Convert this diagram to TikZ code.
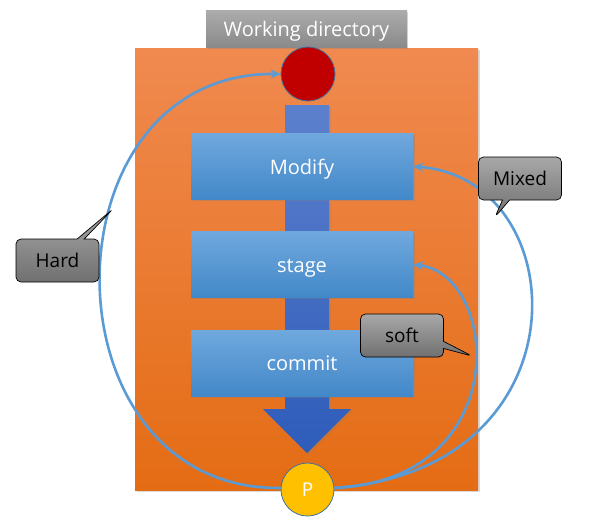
\documentclass[tikz,border=0pt]{standalone}
\usepackage{fontspec}
\setmainfont{Open Sans}
\usetikzlibrary{shapes.callouts,shadows,arrows.meta}
\definecolor{orTop}{RGB}{240,138,80}
\definecolor{orBot}{RGB}{228,108,20}
\definecolor{grTop}{RGB}{172,172,172}
\definecolor{grBot}{RGB}{138,138,138}
\definecolor{cgTop}{RGB}{168,168,168}
\definecolor{cgBot}{RGB}{112,112,112}
\definecolor{bxTop}{RGB}{112,168,222}
\definecolor{bxBot}{RGB}{66,136,200}
\definecolor{arTop}{RGB}{92,128,204}
\definecolor{arBot}{RGB}{46,92,186}
\definecolor{lnBlue}{RGB}{91,155,213}
\definecolor{rimBlue}{RGB}{65,113,156}
\definecolor{dkRed}{RGB}{192,0,0}
\definecolor{gold}{RGB}{255,192,0}
\tikzset{
  stepbox/.style={inner sep=0pt, minimum width=222pt, minimum height=66pt,
    top color=bxTop, bottom color=bxBot, text=white,
    font=\fontsize{20}{22}\selectfont, text height=15pt, text depth=0pt,
    drop shadow={opacity=0.35, shadow xshift=1.5pt, shadow yshift=-1.5pt}},
  bubble/.style={rectangle callout, rounded corners=5pt, draw=black, line width=0.7pt,
    top color=cgTop, bottom color=cgBot, inner sep=0pt,
    minimum width=83pt, minimum height=43pt, text=black,
    font=\fontsize{19}{21}\selectfont, text height=14pt, text depth=0pt},
  reset/.style={draw=lnBlue, line width=2.6pt, -{Stealth[length=10pt,width=9pt]}},
}
\begin{document}
\begin{tikzpicture}[x=1pt,y=-1pt]
\useasboundingbox (0,0) rectangle (590,531);
% orange working area
\node[inner sep=0pt, minimum width=343pt, minimum height=442pt,
  top color=orTop, bottom color=orBot,
  drop shadow={opacity=0.3, shadow xshift=1.5pt, shadow yshift=-1.5pt}] (area) at (306.5,269) {};
% title
\node[inner sep=0pt, minimum width=201pt, minimum height=37pt,
  top color=grTop, bottom color=grBot, text=white,
  font=\fontsize{20}{22}\selectfont, text height=15pt, text depth=0pt,
  drop shadow={opacity=0.3, shadow xshift=1pt, shadow yshift=-1.5pt}] (title) at (306.5,28.5) {Working directory};
% big flow arrow
\path[top color=arTop, bottom color=arBot, drop shadow={opacity=0.3, shadow xshift=1.5pt, shadow yshift=-1.5pt}]
  (285,105) -- (329,105) -- (329,409) -- (351,409) -- (307,453) -- (263,409) -- (285,409) -- cycle;
% steps
\node[stepbox] (modify) at (302,166.5) {Modify};
\node[stepbox] (stage)  at (302,264.5) {stage};
\node[stepbox] (commit) at (302,363)   {commit};
% circles
\node[circle, fill=dkRed, draw=rimBlue, line width=0.8pt, minimum size=54pt, inner sep=0pt] (head) at (308,74) {};
\node[circle, fill=gold, draw=rimBlue, line width=0.8pt, minimum size=53pt, inner sep=0pt,
  text=white, font=\fontsize{19}{21}\selectfont, text height=14pt, text depth=0pt] (p) at (307.5,489.5) {P};
% reset arrows
\coordinate (pw) at (282,488);
\coordinate (pe) at (334,488);
\draw[reset] (pw) .. controls (40,492) and (40,72) .. (head.west);
\draw[reset] (pe) .. controls (590,470) and (575,178) .. (modify.east);
\draw[reset] (pe) .. controls (515,480) and (500,275) .. (stage.east);
% callouts
\node[bubble, callout absolute pointer={(113,209)}] (hard) at (57.5,260.5) {Hard};
\node[bubble, callout absolute pointer={(495,217)}] (mixed) at (520,178.5) {Mixed};
\node[bubble, callout absolute pointer={(472,356)}] (soft) at (402,335.5) {soft};
\end{tikzpicture}
\end{document}
